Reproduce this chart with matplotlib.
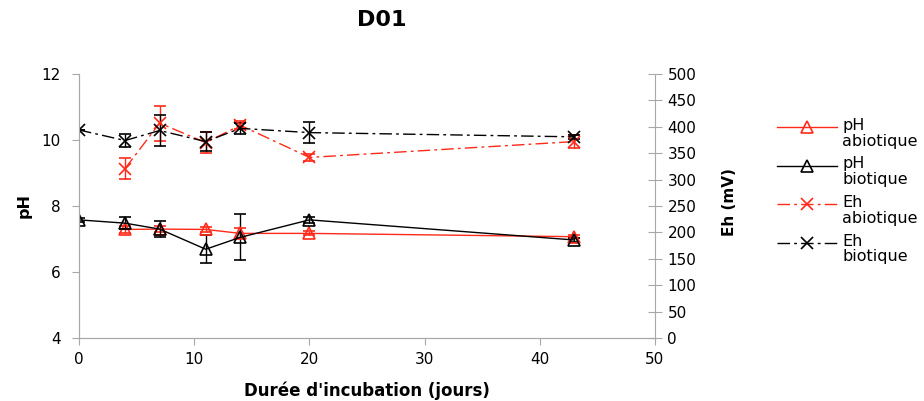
import matplotlib
matplotlib.use('Agg')
import matplotlib.pyplot as plt
from matplotlib.lines import Line2D

plt.rcParams['font.family'] = ['DejaVu Sans']

# durées d'incubation (jours)
jours = [0, 4, 7, 11, 14, 20, 43]

ph_abio = [None, 7.29, 7.30, 7.29, 7.17, 7.17, 7.07]
ph_abio_err = [0, 0.10, 0.10, 0.08, 0.15, 0.06, 0.05]
ph_bio = [7.58, 7.48, 7.30, 6.69, 7.05, 7.58, 6.97]
ph_bio_err = [0.05, 0.18, 0.25, 0.42, 0.70, 0.08, 0.05]

eh_abio = [None, 321, 407, 370, 403, 342, 372]
eh_abio_err = [0, 19, 33, 20, 8, 7, 12]
eh_bio = [394, 374, 393, 372, 397, 389, 381]
eh_bio_err = [0, 13, 29, 18, 10, 20, 4]


def clean(x, y, e):
    pts = [(a, b, c) for a, b, c in zip(x, y, e) if b is not None]
    return [p[0] for p in pts], [p[1] for p in pts], [p[2] for p in pts]


W, H = 924, 401
fig = plt.figure(figsize=(W / 100, H / 100), dpi=100)
ax = fig.add_axes([79 / W, 1 - 338 / H, 576 / W, 264 / H])
ax2 = ax.twinx()

RED = '#ff2a1a'
GRAY = '#a8a8a8'
dashdot = (0, (9, 3, 2, 3))

x, y, e = clean(jours, ph_abio, ph_abio_err)
ax.errorbar(x, y, yerr=e, color=RED, lw=1, marker='^', mfc='none', mec=RED,
            ms=8, mew=1.2, capsize=4, elinewidth=1)
x, y, e = clean(jours, ph_bio, ph_bio_err)
ax.errorbar(x, y, yerr=e, color='black', lw=1, marker='^', mfc='none', mec='black',
            ms=8, mew=1.2, capsize=4, elinewidth=1)

x, y, e = clean(jours, eh_abio, eh_abio_err)
ax2.errorbar(x, y, yerr=e, color=RED, lw=1, ls=dashdot, marker='x', ms=9,
             mew=1.2, capsize=4, elinewidth=1)
x, y, e = clean(jours, eh_bio, eh_bio_err)
ax2.errorbar(x, y, yerr=e, color='black', lw=1, ls=dashdot, marker='x', ms=9,
             mew=1.2, capsize=4, elinewidth=1)

ax.set_xlim(0, 50)
ax.set_ylim(4, 12)
ax.set_xticks(range(0, 51, 10))
ax.set_yticks(range(4, 13, 2))
ax2.set_ylim(0, 500)
ax2.set_yticks(range(0, 501, 50))

for a in (ax, ax2):
    for s in a.spines.values():
        s.set_color(GRAY)
    a.spines['top'].set_visible(False)
ax.spines['right'].set_visible(False)
ax.tick_params(axis='y', colors=GRAY, labelcolor='black', labelsize=11, length=5, pad=8)
ax.tick_params(axis='x', colors=GRAY, labelcolor='black', labelsize=11, length=5, pad=5)
ax2.tick_params(axis='y', colors=GRAY, labelcolor='black', labelsize=11, length=10,
                direction='inout', pad=4)

ax.set_xlabel("Durée d'incubation (jours)", fontsize=12, fontweight='bold')
ax.xaxis.set_label_coords(0.5, -0.163)
ax.set_ylabel('pH', fontsize=11.5, fontweight='bold')
ax.yaxis.set_label_coords(-0.082, 0.5)
ax2.set_ylabel('Eh (mV)', fontsize=11, fontweight='bold')
ax2.yaxis.set_label_coords(1.116, 0.515)

fig.text(382 / W, 1 - 20 / H, 'D01', ha='center', va='center', fontsize=16, fontweight='bold')

# légende dessinée à la main (trait aligné sur la première ligne du texte)
entries = [
    (dict(color=RED, ls='-', marker='^', mfc='none', mec=RED, ms=8), 'pH\nabiotique'),
    (dict(color='black', ls='-', marker='^', mfc='none', mec='black', ms=8), 'pH\nbiotique'),
    (dict(color=RED, ls=dashdot, marker='x', ms=9), 'Eh\nabiotique'),
    (dict(color='black', ls=dashdot, marker='x', ms=9), 'Eh\nbiotique'),
]
for i, (style, label) in enumerate(entries):
    yp = 1 - (127 + i * 38.5) / H
    fig.add_artist(Line2D([777 / W, 837 / W], [yp, yp], lw=1, transform=fig.transFigure,
                          markevery=[], **style))
    fig.add_artist(Line2D([807 / W], [yp], lw=0, transform=fig.transFigure,
                          marker=style['marker'], ms=style['ms'], mew=1.2,
                          mfc='none', mec=style.get('mec', style['color']),
                          color=style['color']))
    fig.text(842 / W, yp + 9 / H, label, ha='left', va='top', fontsize=11.5,
             linespacing=1.05)

fig.savefig('out.png', dpi=100)
